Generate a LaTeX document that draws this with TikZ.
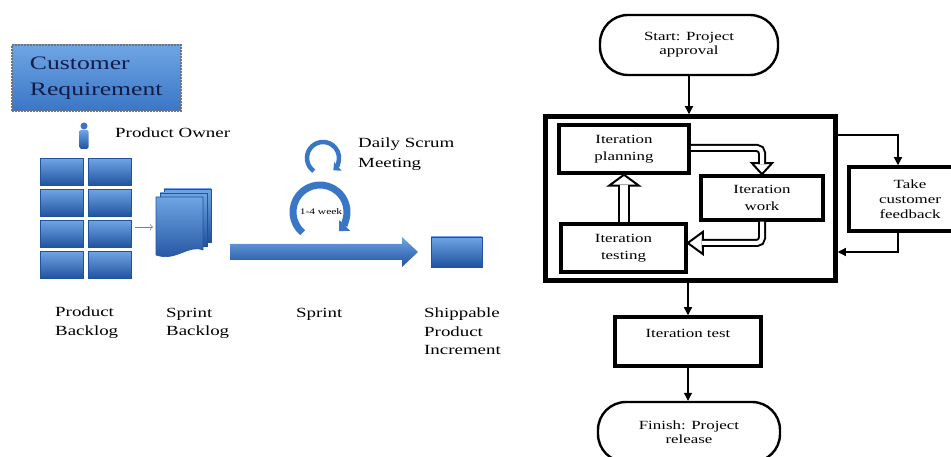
\documentclass[tikz,border=0pt]{standalone}
\usepackage{fontspec}
\setmainfont[FakeStretch=1.35]{Liberation Serif}
\usetikzlibrary{arrows.meta,calc}

\definecolor{scrumlight}{RGB}{110,165,228}
\definecolor{scrumblue}{RGB}{58,118,198}
\definecolor{scrumdark}{RGB}{32,82,158}
\definecolor{reqtext}{RGB}{18,28,72}

\tikzset{
	tile/.style={rectangle, inner sep=0pt, top color=scrumlight, bottom color=scrumdark, draw=scrumdark, line width=.6pt},
	page/.style={top color=scrumlight, bottom color=scrumdark, draw=scrumdark, line width=.6pt},
	lbl/.style={anchor=north west, inner sep=0pt, align=left, font=\fontsize{14}{18.5}\selectfont},
	stepbox/.style={rectangle, draw, line width=3.5pt, inner sep=0pt, align=center, font=\fontsize{12.5}{17}\selectfont},
	term/.style={rectangle, rounded corners=28pt, draw, line width=2.4pt, inner sep=0pt, align=center, font=\fontsize{12.5}{14}\selectfont},
	flow/.style={line width=1.2pt, -{Triangle[length=8pt, width=8pt]}},
	hollow/.style={line width=2pt, double=white, double distance=4pt, rounded corners=5pt},
	hollowhead/.style={line width=2pt, fill=white, line join=miter},
}

\begin{document}
\begin{tikzpicture}[x=1pt, y=-1pt]
	\useasboundingbox (0,0) rectangle (951,457);
	%\draw[help lines, step=50] (0,0) grid (951,457);
	
	% scrum cycle
	\node[rectangle, minimum width=169pt, minimum height=66pt, text width=133pt, inner xsep=18pt, inner ysep=0pt,
		top color=scrumlight, bottom color=scrumblue, draw=black!55, dash pattern=on 2pt off 1pt, line width=1.4pt,
		align=left, text=reqtext, font=\fontsize{19}{26}\selectfont] (custreq) at (96.5,78) {Customer\\Requirement};
	
	\fill[scrumblue] (84,126) circle (3.5);
	\shade[top color=scrumlight, bottom color=scrumdark, rounded corners=1.5pt] (79.5,130) rectangle (88.5,149);
	\node[lbl] (owner) at (115,128) {Product Owner};
	
	\foreach \row in {0,...,3}
	\foreach \col in {0,1}
	\node[tile, minimum width=43pt, minimum height=27pt] (pb\row\col) at (61.5 + 48 * \col, 172 + 31 * \row) {};
	
	\foreach \d in {8,4}
	\draw[page] (156+\d,197-\d) rectangle (203+\d,250-\d);
	\draw[page] (156,197) -- (203,197) -- (203,250) .. controls (188,244) and (176,262) .. (156,255) -- cycle;
	\coordinate (sbk) at (153,227);
	\draw[gray, line width=.6pt, -{To[length=3pt]}] ($(pb21.east |- sbk)+(4,0)$) -- (sbk);
	
	\shade[top color=scrumlight, bottom color=scrumdark] (230,244) -- (402,244) -- (402,237) -- (418,252)
		-- (402,267) -- (402,260) -- (230,260) -- cycle;
	\node[tile, minimum width=51pt, minimum height=30pt] (ship) at (456.5,252) {};
	
	\draw[scrumblue, line width=4.5pt, -{Triangle[length=6pt, width=11pt]}] (323,158) ++(125:16) arc[start angle=125, end angle=410, radius=16];
	\draw[scrumblue, line width=7pt, -{Triangle[length=8pt, width=15pt]}] (320,212) ++(130:27) arc[start angle=130, end angle=405, radius=27];
	\node[inner sep=0pt, font=\fontsize{8.5}{10}\selectfont] (span) at (321,212) {1-4 week};
	\node[lbl, font=\fontsize{14}{20}\selectfont] (daily) at (358,138) {Daily Scrum\\Meeting};
	
	\node[lbl] (pblbl) at (55,307) {Product\\Backlog};
	\node[lbl] (sblbl) at (166,308) {Sprint\\Backlog};
	\node[lbl] (splbl) at (296,308) {Sprint};
	\node[lbl] (shlbl) at (424,308) {Shippable\\Product\\Increment};
	
	% iteration flow
	\node[term, minimum width=178pt, minimum height=60pt] (start) at (689,45) {Start: Project\\approval};
	\node[rectangle, draw, line width=4.5pt, minimum width=290pt, minimum height=164pt] (frame) at (690.5,198.5) {};
	\node[stepbox, minimum width=130pt, minimum height=48pt] (plan) at (624,149) {Iteration\\planning};
	\node[stepbox, minimum width=122pt, minimum height=44pt] (work) at (762,198) {Iteration\\work};
	\node[stepbox, minimum width=125pt, minimum height=48pt] (test) at (623.5,248) {Iteration\\testing};
	\node[stepbox, minimum width=122pt, minimum height=64pt, font=\fontsize{12.5}{15}\selectfont] (feedback) at (910,199) {Take\\customer\\feedback};
	\node[stepbox, minimum width=146pt, minimum height=49pt] (ittest) at (688,341.5) {Iteration test\\~};
	\node[term, minimum width=182pt, minimum height=60pt] (finish) at (689,432) {Finish: Project\\release};
	
	\draw[flow] (start.south) -- (start.south |- frame.north);
	\draw[flow] (ittest.north |- frame.south) -- (ittest.north);
	\draw[flow] (ittest.south) -- (ittest.south |- finish.north);
	
	\coordinate (fbout) at (898,135);
	\coordinate (fbin) at (898,252);
	\draw[flow] (frame.east |- fbout) -- (fbout) -- (fbout |- feedback.north);
	\draw[flow] (fbin |- feedback.south) -- (fbin) -- (frame.east |- fbin);
	
	\draw[hollowhead] (work.north) -- ++(-10,-11) -- ++(20,0) -- cycle;
	\draw[hollow] (plan.east |- 0,148) -| ($(work.north)+(0,-10)$);
	
	\draw[hollowhead] (plan.south) -- ++(-15,11) -- ++(30,0) -- cycle;
	\draw[hollow, double distance=8pt] (test.north -| plan.south) -- ($(plan.south)+(0,10)$);
	
	\coordinate (wt) at ($(test.east)+(0,-5)$);
	\draw[hollowhead] (wt) -- ++(15,-11) -- ++(0,22) -- cycle;
	\draw[hollow] (work.south) |- ($(wt)+(14,0)$);
	
\end{tikzpicture}
\end{document}
